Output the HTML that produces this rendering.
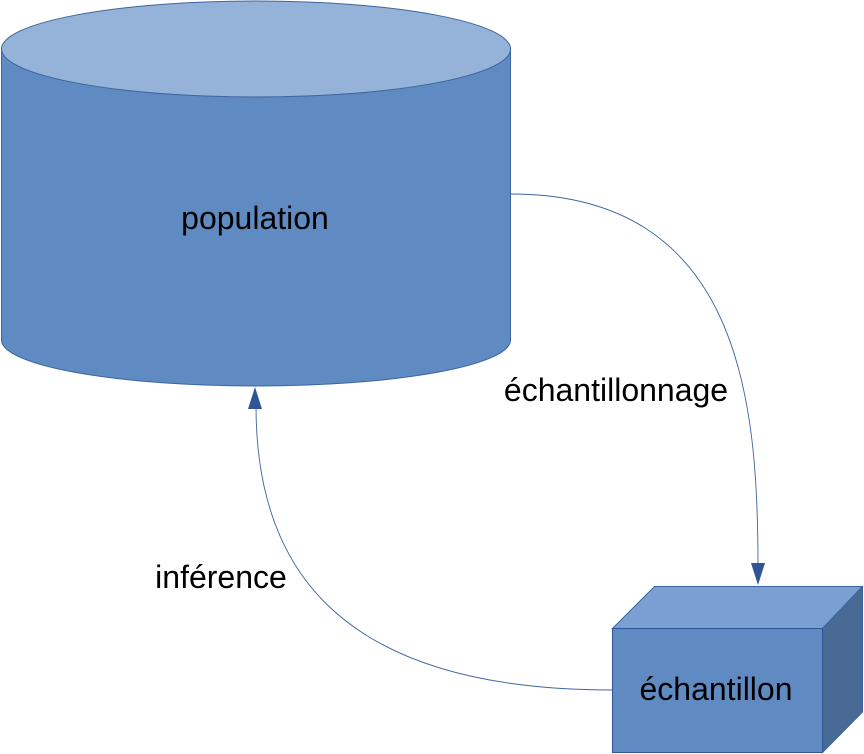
<!DOCTYPE html>
<html><head><meta charset="utf-8"><style>
html,body{margin:0;padding:0;background:#fff;width:864px;height:754px;overflow:hidden}
</style></head><body>
<svg width="864" height="754" viewBox="0 0 864 754" xmlns="http://www.w3.org/2000/svg" font-family="Liberation Sans, sans-serif">
<!-- cylinder -->
<path d="M1.5,49 L1.5,340 A254.5,46 0 0 0 510.5,340 L510.5,49 Z" fill="#5f8bc2" stroke="#3d64a0" stroke-width="1"/>
<ellipse cx="256" cy="49" rx="254.5" ry="48" fill="#95b3d9" stroke="#3d64a0" stroke-width="1"/>
<text x="255" y="229" font-size="32" text-anchor="middle" fill="#000">population</text>
<!-- cube -->
<polygon points="612.5,628.5 654.5,586.5 862.5,586.5 822.5,628.5" fill="#7a9fd1" stroke="#3d64a0" stroke-width="1"/>
<polygon points="822.5,628.5 862.5,586.5 862.5,712 822.5,752.5" fill="#4a6a96" stroke="#3d64a0" stroke-width="1"/>
<rect x="612.5" y="628.5" width="210" height="124" fill="#5f8bc2" stroke="#2f5597" stroke-width="1"/>
<text x="716" y="700" font-size="32" text-anchor="middle" fill="#000">échantillon</text>
<!-- connectors -->
<path d="M511,194 C740,194 758,400 758,565" fill="none" stroke="#3d64a0" stroke-width="0.9"/>
<polygon points="751,563 765,563 758,585" fill="#2f5597"/>
<path d="M612,690 C330,690 256,560 256,406" fill="none" stroke="#3d64a0" stroke-width="0.9"/>
<polygon points="248,409 262,409 255,387" fill="#2f5597"/>
<text x="616" y="401" font-size="32" text-anchor="middle" fill="#000">échantillonnage</text>
<text x="221" y="588" font-size="32" text-anchor="middle" fill="#000">inférence</text>
</svg>
</body></html>
